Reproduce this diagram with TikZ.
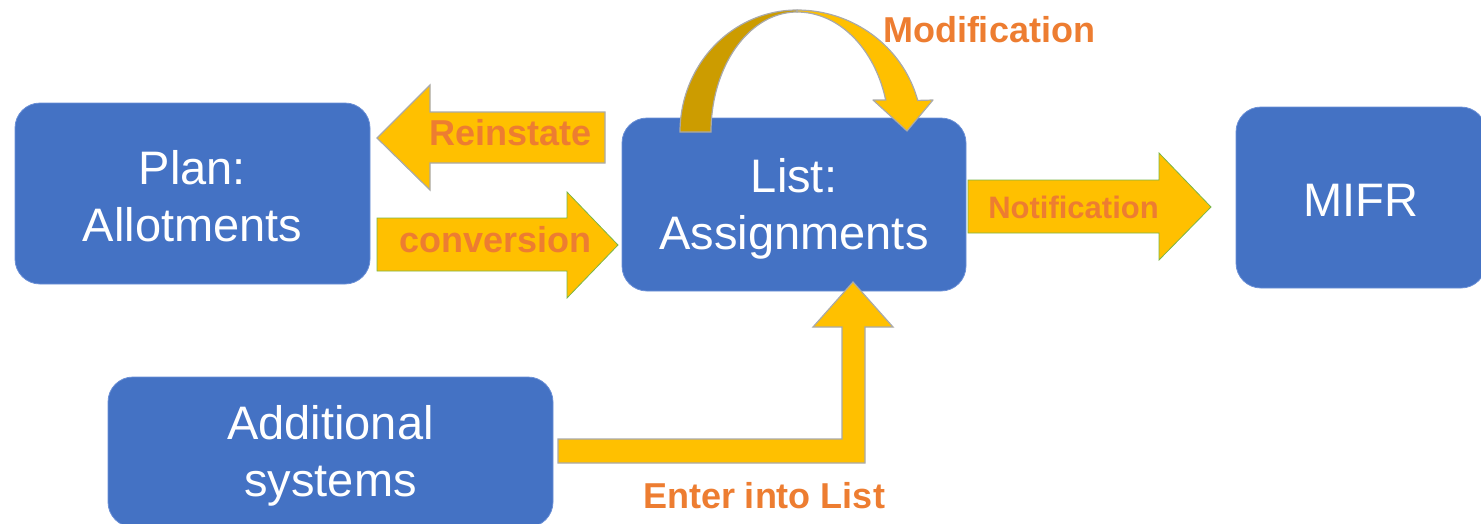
\documentclass[tikz,border=0pt]{standalone}
\usepackage{fontspec}
\setmainfont{Liberation Sans}
\definecolor{boxblue}{HTML}{4472C4}
\definecolor{boxedge}{HTML}{6A8FD6}
\definecolor{arrowyellow}{HTML}{FFC000}
\definecolor{arrowdark}{HTML}{CC9C00}
\definecolor{labelorange}{HTML}{ED7D31}
\definecolor{edgegray}{HTML}{A9A9A9}
\definecolor{edgegreen}{HTML}{7AB648}
\tikzset{
  bluebox/.style={draw=boxedge, line width=0.8pt, fill=boxblue, rounded corners=25pt, inner sep=0pt},
  boxtext/.style={text=white, align=center, font=\fontsize{47}{57}\selectfont, inner sep=0pt},
  grayarrow/.style={fill=arrowyellow, draw=edgegray, line width=1.2pt, line join=miter},
  greenarrow/.style={fill=arrowyellow, draw=edgegreen, line width=0.8pt, line join=miter},
  darkband/.style={fill=arrowdark, draw=edgegray, line width=1.2pt},
  arrowlabel/.style={text=labelorange, font=\bfseries\fontsize{36}{40}\selectfont, inner sep=0pt, anchor=base},
}
\begin{document}
\begin{tikzpicture}[x=1pt,y=-1pt]
\useasboundingbox (0,0) rectangle (1481,523);
% boxes
\node[bluebox, minimum width=355, minimum height=181] (plan) at (192.5,193.5) {};
\node[bluebox, minimum width=344, minimum height=173] (list) at (794,204.5) {};
\node[bluebox, minimum width=250, minimum height=181] (mifr) at (1361,197.5) {};
\node[bluebox, minimum width=445, minimum height=150] (add) at (330.5,452) {};
\node[boxtext] (plantext) at ([yshift=-3pt]plan.center) {Plan:\\Allotments};
\node[boxtext] (listtext) at ([yshift=-4pt]list.center) {List:\\Assignments};
\node[boxtext] (mifrtext) at ([yshift=-3pt]mifr.center) {MIFR};
\node[boxtext] (addtext) at ([yshift=-4pt]add.center) {Additional\\systems};

% Reinstate arrow (list -> plan)
\draw[grayarrow] (605,112) -- (430,112) -- (430,85) -- (377,138) -- (430,190) -- (430,163) -- (605,163) -- cycle;
% conversion arrow (plan -> list)
\draw[greenarrow] (377,218) -- (567,218) -- (567,192) -- (618,245) -- (567,298) -- (567,271) -- (377,271) -- cycle;
% Notification arrow (list -> mifr)
\draw[greenarrow] (968,180) -- (1159,180) -- (1159,153) -- (1211,207) -- (1159,260) -- (1159,233) -- (968,233) -- cycle;
% Enter into List arrow (add -> list)
\draw[grayarrow] (558,439) -- (842,439) -- (842,327) -- (813,327) -- (853,282) -- (893,327) -- (865,327) -- (865,463) -- (558,463) -- cycle;

% Modification curved arrow (list -> list)
\draw[darkband] (680,132)
  -- plot[domain=180:90, variable=\t, samples=40, smooth] ({797+117*cos(\t)},{132-122*sin(\t)})
  -- plot[domain=90:180, variable=\t, samples=40, smooth] ({797+86*cos(\t)},{132-120*sin(\t)})
  -- cycle;
\draw[grayarrow, line join=round] (797,10)
  -- plot[domain=90:15, variable=\t, samples=40, smooth] ({797+125*cos(\t)},{132-122*sin(\t)})
  -- (933,100) -- (907,131) -- (873,100) -- (886,100)
  -- plot[domain=15.5:90, variable=\t, samples=40, smooth] ({797+92*cos(\t)},{132-120*sin(\t)})
  -- cycle;

% labels
\node[arrowlabel] (lmod) at (989,42) {Modification};
\node[arrowlabel] (lrein) at (510.5,145) {Reinstate};
\node[arrowlabel] (lconv) at (495.5,252) {conversion};
\node[arrowlabel, font=\bfseries\fontsize{31}{36}\selectfont] (lnot) at (1073.5,218) {Notification};
\node[arrowlabel] (lenter) at (764,508) {Enter into List};
\end{tikzpicture}
\end{document}
